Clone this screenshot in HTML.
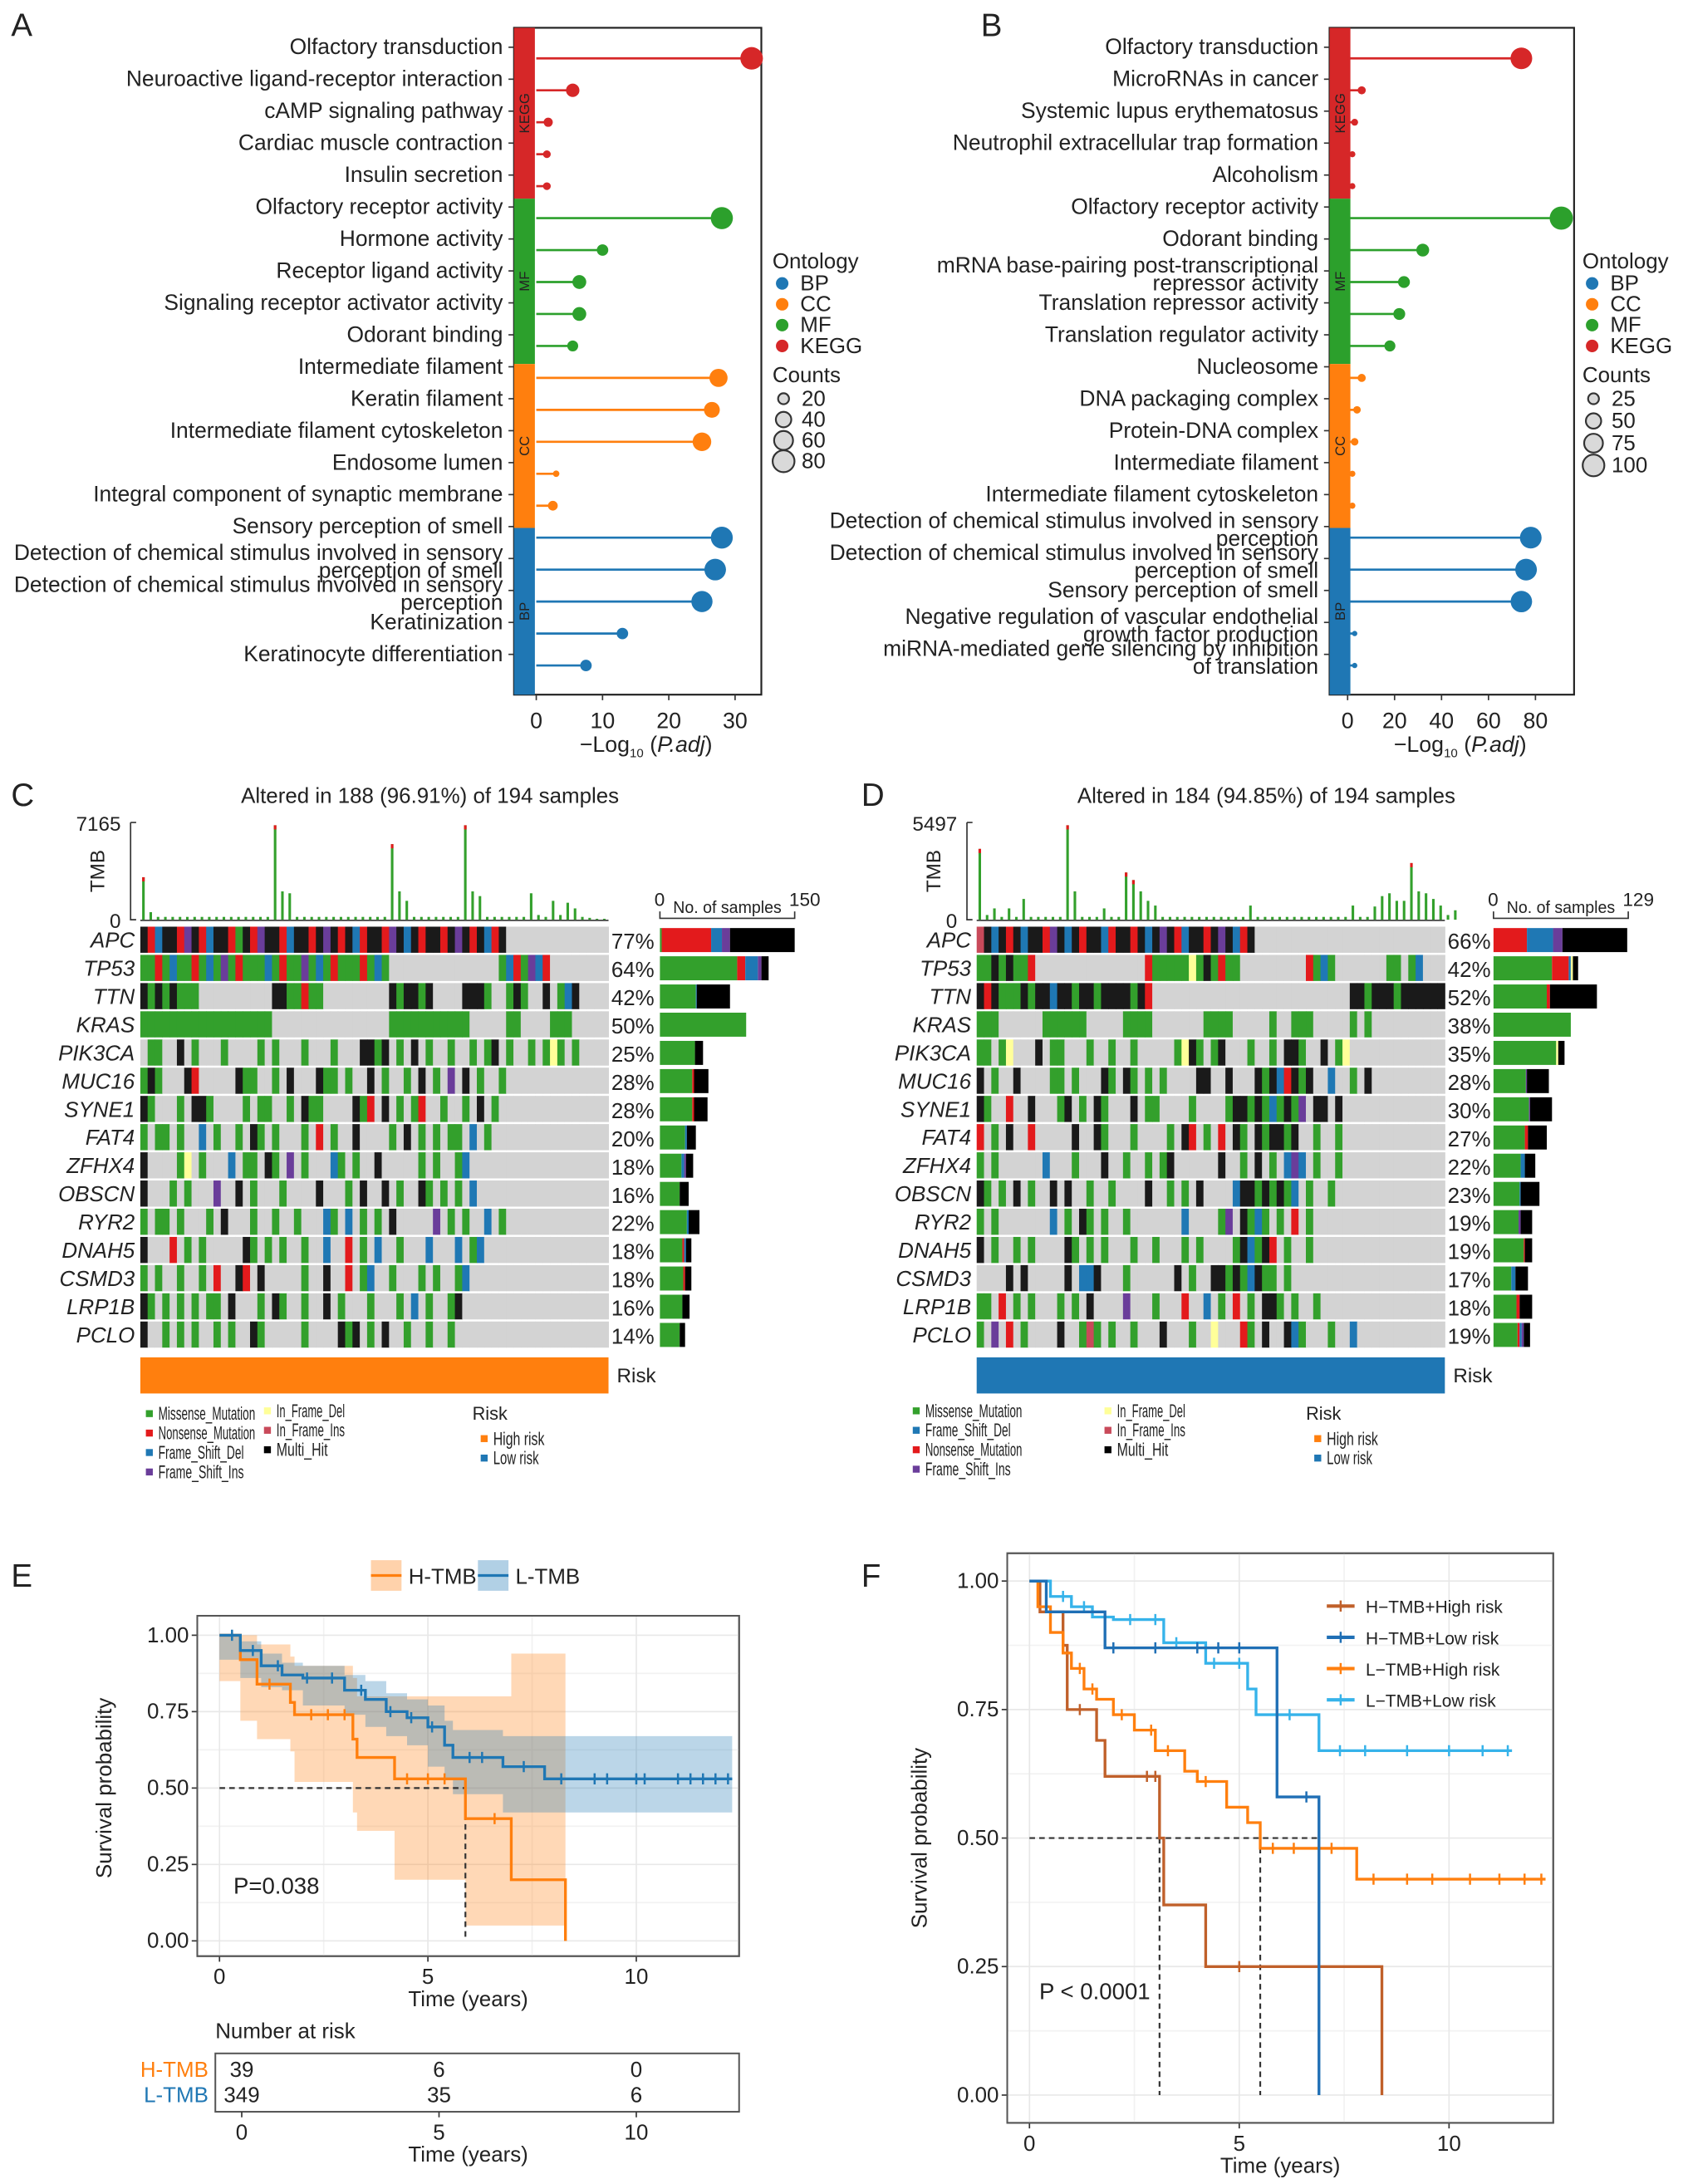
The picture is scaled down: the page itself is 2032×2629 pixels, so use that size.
<!DOCTYPE html>
<html><head><meta charset="utf-8"><style>
html,body{margin:0;padding:0;background:#fff}
svg{display:block}
text{font-family:"Liberation Sans",Arial,sans-serif;fill:#222}
</style></head><body>
<svg id="fig" xmlns="http://www.w3.org/2000/svg" width="2032" height="2629" viewBox="0 0 1215 1572" preserveAspectRatio="none">
<rect width="1215" height="1572" fill="#fff"/>
<g font-size="23">
<text x="8" y="26">A</text>
<text x="706" y="26">B</text>
<text x="8" y="580">C</text>
<text x="620" y="580">D</text>
<text x="8" y="1142">E</text>
<text x="620" y="1142">F</text>
</g>
<g id="gA"></g><g id="gB"></g><g id="gC"></g><g id="gD"></g><g id="gE"></g><g id="gF"></g>
</svg>
<script>
// ---------- Panel A / B data ----------
const termsA = ["Olfactory transduction","Neuroactive ligand-receptor interaction","cAMP signaling pathway","Cardiac muscle contraction","Insulin secretion","Olfactory receptor activity","Hormone activity","Receptor ligand activity","Signaling receptor activator activity","Odorant binding","Intermediate filament","Keratin filament","Intermediate filament cytoskeleton","Endosome lumen","Integral component of synaptic membrane","Sensory perception of smell","Detection of chemical stimulus involved in sensory|perception of smell","Detection of chemical stimulus involved in sensory|perception","Keratinization","Keratinocyte differentiation"];
const valuesA = [32.5,5.5,1.8,1.6,1.6,28,10,6.5,6.5,5.5,27.5,26.5,25,3,2.5,28,27,25,13,7.5];
const countsA = [85,30,14,10,10,82,22,32,32,20,55,42,58,7,16,80,78,75,22,22];
const termsB = ["Olfactory transduction","MicroRNAs in cancer","Systemic lupus erythematosus","Neutrophil extracellular trap formation","Alcoholism","Olfactory receptor activity","Odorant binding","mRNA base-pairing post-transcriptional|repressor activity","Translation repressor activity","Translation regulator activity","Nucleosome","DNA packaging complex","Protein-DNA complex","Intermediate filament","Intermediate filament cytoskeleton","Detection of chemical stimulus involved in sensory|perception","Detection of chemical stimulus involved in sensory|perception of smell","Sensory perception of smell","Negative regulation of vascular endothelial|growth factor production","miRNA-mediated gene silencing by inhibition|of translation"];
const valuesB = [74,6,3,2,2,91,32,24,22,18,6,4,3,2,2,78,76,74,3,3];
const countsB = [100,14,10,8,8,115,35,30,30,26,14,12,12,8,8,100,100,98,6,6];
const groups = ["KEGG","MF","CC","BP"];
const groupColors = {KEGG:"#d62728",MF:"#2ca02c",CC:"#ff7f0e",BP:"#1f77b4"};
const ticksA = [0,10,20,30];
const ticksB = [0,20,40,60,80];

const NS="http://www.w3.org/2000/svg";
function el(parent,tag,attrs,txt){const e=document.createElementNS(NS,tag);for(const k in attrs)e.setAttribute(k,attrs[k]);if(txt!==undefined)e.textContent=txt;parent.appendChild(e);return e;}

function lollipop(g,cfg){
  const {terms,values,counts,x0,pxPer,boxL,boxR,ticks,legX,rScale,legCounts,legR,name}=cfg;
  const xs=v=>x0+v*pxPer, ys=i=>42+i*23;
  const box=el(g,'rect',{x:boxL,y:20,width:boxR-boxL,height:480,fill:'none',stroke:'#222','stroke-width':1.3});
  
  const segs=[[20,143],[143,262],[262,380],[380,500]];
  groups.forEach((gr,k)=>{
    const r=el(g,'rect',{x:boxL,y:segs[k][0],width:15,height:segs[k][1]-segs[k][0],fill:groupColors[gr]});
    
    const cy=(segs[k][0]+segs[k][1])/2;
    const t=el(g,'text',{x:boxL+11,y:cy,'font-size':10,'text-anchor':'middle',transform:`rotate(-90 ${boxL+11} ${cy})`,fill:'#333'},gr);
    
  });
  terms.forEach((tm,i)=>{
    const gr=groups[Math.floor(i/5)],c=groupColors[gr],y=ys(i);
    const ln=el(g,'line',{x1:x0,x2:xs(values[i]),y1:y,y2:y,stroke:c,'stroke-width':1.6});
    
    const d=el(g,'circle',{cx:xs(values[i]),cy:y,r:rScale*Math.sqrt(counts[i]),fill:c});
    
    const parts=tm.split('|');
    const ty=y-8;
    if(parts.length===1){
      const t=el(g,'text',{x:boxL-8,y:ty+5,'font-size':15.8,'text-anchor':'end'},parts[0]);
      
    }else{
      const t=el(g,'text',{x:boxL-8,y:ty+1,'font-size':15.8,'text-anchor':'end'},parts[0]);
      
      const t2=el(g,'text',{x:boxL-8,y:ty+14,'font-size':15.8,'text-anchor':'end'},parts[1]);
      
    }
    el(g,'line',{x1:boxL-4,x2:boxL,y1:ty,y2:ty,stroke:'#333'});
  });
  ticks.forEach(v=>{
    el(g,'line',{x1:xs(v),x2:xs(v),y1:500,y2:504,stroke:'#333'});
    const t=el(g,'text',{x:xs(v),y:524,'font-size':16,'text-anchor':'middle'},v);
    
  });
  const cx=(boxL+boxR)/2+6;
  const xt=el(g,'text',{x:cx,y:541,'font-size':16,'text-anchor':'middle'});
  
  xt.innerHTML='−Log<tspan font-size="9" dy="4">10</tspan><tspan dy="-4"> (</tspan><tspan font-style="italic">P.adj</tspan>)';
  const lt=el(g,'text',{x:legX,y:193,'font-size':15.5},'Ontology');
  
  ['BP','CC','MF','KEGG'].forEach((k,j)=>{
    const yy=204+j*15;
    el(g,'circle',{cx:legX+7,cy:yy,r:4.5,fill:groupColors[k]});
    const t=el(g,'text',{x:legX+20,y:yy+5,'font-size':15.5},k);
    
  });
  const ct=el(g,'text',{x:legX,y:275,'font-size':15.5},'Counts');
  
  legCounts.forEach((c,j)=>{
    const yy=287+j*legR;
    el(g,'circle',{cx:legX+8,cy:yy,r:rScale*Math.sqrt(c),fill:'#d9d9d9',stroke:'#333','stroke-width':1.3});
    const t=el(g,'text',{x:legX+21,y:yy+5,'font-size':15.5},c);
    
  });
}
lollipop(document.getElementById('gA'),{terms:termsA,values:valuesA,counts:countsA,x0:386,pxPer:4.77,boxL:370,boxR:548,ticks:ticksA,legX:556,rScale:0.88,legCounts:[20,40,60,80],legR:15,name:'panel-a'});
lollipop(document.getElementById('gB'),{terms:termsB,values:valuesB,counts:countsB,x0:970,pxPer:1.69,boxL:957,boxR:1133,ticks:ticksB,legX:1139,rScale:0.78,legCounts:[25,50,75,100],legR:16,name:'panel-b'});

// ---------- Panel C / D data ----------
const genesC=["APC","TP53","TTN","KRAS","PIK3CA","MUC16","SYNE1","FAT4","ZFHX4","OBSCN","RYR2","DNAH5","CSMD3","LRP1B","PCLO"];
const pctC=["77%","64%","42%","50%","25%","28%","28%","20%","18%","16%","22%","18%","18%","16%","14%"];
const matC=[
"krbkkrpkrbkkrgkrpkkrbkkrkpkrkbrkkrpkbkrkkrkpkrkbrk",
"ggrgbggrgbgpgrgggbgrggpgbgrgggrgbg...............gbrgpbr",
"kgkgkggg..........kkggrgg.........kgkkgk....kkkg..gkg..k.gbk",
"gggggggggggggggggg................ggggggggggg.....gg....ggg",
".gg..k.g...g....g.g...g...g...kkgk.g.k.g..g..g.gk.g..g.gyg.g",
"gkg...kr.....kgg..g.k...kgg.g..k.g..g.k.g.p.k.g..g.",
"kg...g.kkg....g.gg..g.kgg....kgr.k.g.gr..g..g.k.g",
"g.gg.g..b.g..g.kg.g...g.r.g..k....g.k.g.g.gg.b.g",
"k....gy.g...b.gg.kg.p.g...bg.g..k.....g.g..gb",
"k...g.g...p..k.g...g....k...g.k..k.g..kg.g.g.b",
"g.gg.g...g.k...g..g..g...bg.b.g.g.k.....p.g.g..b.g",
"k...r.g.g.....kg.g.g..g..b..r.g.b..g...b...b.gb",
"g.g..g..g.r..kr.k.....g..k..r.gb..g...g.g..gb",
"kg.g.g.g.gg.k...g.kg..g..k.g...g...g.b.g..gk",
"k..g.g.g..g.g..kg.....g....kgk.g.k..g..g..g"];
// side bar counts: [missense, nonsense, frameshift del, frameshift ins, in-frame del, multi-hit]
const sideC=[[2,55,12,9,0,72],[86,9,14,4,0,8],[40,0,1,0,0,37],[96,0,0,0,0,0],[39,0,0,0,0,9],[36,2,0,0,0,16],[36,2,0,0,0,15],[28,0,2,0,0,10],[24,0,3,2,0,8],[22,0,0,0,0,10],[30,0,2,0,0,12],[25,2,2,0,0,6],[26,2,0,0,0,7],[25,0,0,0,0,8],[22,0,0,0,0,6]];
const tmbC=[.45,.08,.03,.03,.03,.03,.03,.03,.03,.03,.03,.03,.03,.03,.03,.03,.03,.03,1.0,.3,.28,.03,.03,.03,.03,.03,.03,.03,.03,.03,.03,.03,.03,.03,.8,.3,.2,.03,.03,.03,.03,.03,.03,.03,1.0,.3,.25,.03,.03,.03,.03,.03,.03,.28,.05,.03,.2,.05,.18,.12,.03,.02,.01,.01];
const genesD=["APC","TP53","TTN","KRAS","PIK3CA","MUC16","SYNE1","FAT4","ZFHX4","OBSCN","RYR2","DNAH5","CSMD3","LRP1B","PCLO"];
const pctD=["66%","42%","52%","38%","35%","28%","30%","27%","22%","23%","19%","19%","17%","18%","19%"];
const matD=[
"mkbkrkbkkrpkbkrkkbrkkrkbkpkrbkkrkpkbrk",
"ggkgkggr...............rgggggygkgrgg.........rgbg.......gg.gb",
"krkgggkgkkbkkgkkgkkkkgkr...........................kkgkkkgkkkkkkg",
"ggg......gggggg.....gggg.......gggg.....g..ggg.....g.g",
"gg.gy...k.gg...g..g..g.....gykg.gk...g..g.kkg..k.gy",
"k.g..k....gg.g...kg.kg.g.g....kk..k...kgkbrkgk..b..g.k",
"kg..r..k...gk.g.kg...k.gg....g....gkkgkgbgkgp.kk.k",
"r.g.k..r.....k..kg...g....g.kr.g.r.kg.kgkkgk..g..g",
"g.g......b...g...k..g..g.gk......k..g.k.g.bpb.g..g",
"kg.g.k.g..k.k..g..g....k..g.g.k....bkkgkgkgb.g..g",
"g.g.......b.g.kg.g..g.......b....gp.kgbg.g.r.g",
"k.g..g.g....kg.g.g...g..g...g.g....gkbgkr.g..g",
"....k.k.....k.bbk...g......k.g..kkgkgbkgg.g",
"gg.r.g.g...g.g.k....p...g...r..b.g.r.g.kkg.g..g",
"g.p.r.g....k..gmg.g..g...k...g..y...rg.k..kbg...g..b"];
const sideD=[[0,32,25,9,0,62],[56,16,2,0,2,5],[51,3,0,0,0,45],[74,0,0,0,0,0],[60,0,0,0,2,6],[31,0,0,1,0,21],[34,0,0,1,0,21],[30,3,0,0,0,18],[26,0,4,0,0,10],[25,0,1,0,0,18],[24,0,0,2,0,11],[29,1,0,0,0,7],[17,0,4,0,0,12],[22,3,0,0,0,12],[23,2,2,2,0,6]];
const tmbD=[.75,.05,.12,.03,.12,.03,.22,.03,.03,.03,.03,.03,1.0,.3,.03,.03,.03,.12,.03,.03,.5,.42,.3,.2,.15,.03,.03,.03,.03,.03,.03,.03,.03,.03,.03,.03,.03,.15,.03,.03,.03,.03,.03,.03,.03,.03,.03,.03,.03,.03,.03,.15,.03,.03,.14,.25,.28,.2,.2,.6,.3,.28,.22,.15,.05,.1];

const mutColors={g:"#33a02c",r:"#e31a1c",b:"#1f78b4",p:"#6a3d9a",k:"#1a1a1a",y:"#ffff99",m:"#c94a5a",'.':"#d3d3d3"};
const sideColors=["#33a02c","#e31a1c","#1f78b4","#6a3d9a","#ffff99","#000000"];

function oncoplot(g,cfg){
  const {genes,pct,mat,side,tmb,L,R,sideL,sideMax,sideW,tmbMax,title,riskColor,name,legend}=cfg;
  const N=64, cw=(R-L)/N, top=667, rh=20.3;
  const tt=el(g,'text',{x:(L+R)/2+40,y:578,'font-size':15.5,'text-anchor':'middle'},title);
  
  el(g,'path',{d:`M${L-3} 592 H${L-7} M${L-7} 592 V662 H${L-3} M${L} 662.5 H${R}`,stroke:'#333',fill:'none'});
  const t1=el(g,'text',{x:L-14,y:598,'font-size':14.5,'text-anchor':'end'},tmbMax);
  
  el(g,'text',{x:L-14,y:668,'font-size':14.5,'text-anchor':'end'},'0');
  const tl=el(g,'text',{x:L-26,y:627,'font-size':14.5,'text-anchor':'middle',transform:`rotate(-90 ${L-26} 627)`},'TMB');
  
  tmb.forEach((v,i)=>{
    const h=v*68;
    const b=el(g,'rect',{x:L+i*cw+cw*0.25,y:662-h,width:Math.max(1.2,cw*0.35),height:h,fill:'#33a02c'});
    
    if(v>0.4){el(g,'rect',{x:L+i*cw+cw*0.25,y:662-h,width:Math.max(1.2,cw*0.35),height:3,fill:'#e31a1c'});}
  });
  genes.forEach((gn,r)=>{
    const y=top+r*rh;
    const row=(mat[r]+'.'.repeat(N)).slice(0,N);
    for(let i=0;i<N;i++){
      const c=el(g,'rect',{x:L+i*cw,y:y,width:cw+0.3,height:rh-1.5,fill:mutColors[row[i]]||'#d3d3d3'});
      
    }
    const gl=el(g,'text',{x:L-4,y:y+15,'font-size':15.5,'font-style':'italic','text-anchor':'end'},gn);
    
    const pl=el(g,'text',{x:R+2,y:y+16,'font-size':15.5},pct[r]);
    
    let x=sideL;
    side[r].forEach((v,k)=>{
      if(!v)return;
      const w=v*sideW/sideMax;
      const s=el(g,'rect',{x:x,y:y+1,width:w,height:rh-3,fill:sideColors[k]});
      
      x+=w;
    });
  });
  el(g,'path',{d:`M${sideL} 656 V661 H${sideL+sideW} V656`,stroke:'#333',fill:'none'});
  el(g,'text',{x:sideL-4,y:652,'font-size':13.5},'0');
  const ns=el(g,'text',{x:sideL+sideW/2,y:657,'font-size':12,'text-anchor':'middle',textLength:78,lengthAdjust:'spacingAndGlyphs'},'No. of samples');
  
  el(g,'text',{x:sideL+sideW-4,y:652,'font-size':13.5},sideMax);
  const rk=el(g,'rect',{x:L,y:977,width:R-L,height:26,fill:riskColor});
  
  el(g,'text',{x:R+6,y:995,'font-size':14.5},'Risk');
  legend.forEach(([lx,ly,col,txt])=>{
    el(g,'rect',{x:lx,y:ly-7,width:5,height:5,fill:col});
    const t=el(g,'text',{x:lx+9,y:ly,'font-size':13,textLength:txt.length*4.1,lengthAdjust:'spacingAndGlyphs'},txt);
    
  });
}
oncoplot(document.getElementById('gC'),{genes:genesC,pct:pctC,mat:matC,side:sideC,tmb:tmbC,L:101,R:438,sideL:475,sideMax:150,sideW:97,tmbMax:'7165',title:'Altered in 188 (96.91%) of 194 samples',riskColor:'#ff7f0e',name:'panel-c',
legend:[[105,1022,'#33a02c','Missense_Mutation'],[105,1036,'#e31a1c','Nonsense_Mutation'],[105,1050,'#1f78b4','Frame_Shift_Del'],[105,1064,'#6a3d9a','Frame_Shift_Ins'],[190,1020,'#ffff99','In_Frame_Del'],[190,1034,'#c94a5a','In_Frame_Ins'],[190,1048,'#000','Multi_Hit'],[346,1040,'#ff7f0e','High risk'],[346,1054,'#1f77b4','Low risk']]});
oncoplot(document.getElementById('gD'),{genes:genesD,pct:pctD,mat:matD,side:sideD,tmb:tmbD,L:703,R:1040,sideL:1075,sideMax:129,sideW:97,tmbMax:'5497',title:'Altered in 184 (94.85%) of 194 samples',riskColor:'#1f77b4',name:'panel-d',
legend:[[657,1020,'#33a02c','Missense_Mutation'],[657,1034,'#1f78b4','Frame_Shift_Del'],[657,1048,'#e31a1c','Nonsense_Mutation'],[657,1062,'#6a3d9a','Frame_Shift_Ins'],[795,1020,'#ffff99','In_Frame_Del'],[795,1034,'#c94a5a','In_Frame_Ins'],[795,1048,'#000','Multi_Hit'],[946,1040,'#ff7f0e','High risk'],[946,1054,'#1f77b4','Low risk']]});
[[340,1022],[940,1022]].forEach(([x,y])=>{const t=el(document.getElementById(x<600?'gC':'gD'),'text',{x:x,y:y,'font-size':13},'Risk');});

// ---------- Panel E / F data ----------
const hTmbTimes=[0,0.5,0.9,1.7,1.8,3.2,3.3,4.2,5.9,7.0,8.3];
const hTmbSurv=[1,0.92,0.84,0.78,0.74,0.66,0.60,0.53,0.40,0.20,0];
const hTmbUpper=[1,1,0.97,0.93,0.90,0.86,0.80,0.80,0.80,0.94,0.94];
const hTmbLower=[1,0.85,0.72,0.66,0.62,0.52,0.42,0.36,0.20,0.05,0.05];
const lTmbTimes=[0,0.5,1,1.5,2,3,3.5,4,4.5,5,5.4,5.6,6.8,7.8,12.3];
const lTmbSurv=[1,0.95,0.9,0.87,0.86,0.82,0.79,0.75,0.73,0.70,0.64,0.60,0.57,0.53,0.53];
const lTmbUpper=[1,0.98,0.94,0.91,0.90,0.87,0.85,0.81,0.79,0.77,0.72,0.69,0.67,0.67,0.67];
const lTmbLower=[1,0.92,0.86,0.83,0.82,0.77,0.74,0.70,0.67,0.64,0.57,0.53,0.48,0.42,0.42];
const hTmbCensor=[1.2,2.2,2.6,3.0,4.5,5.0,5.4,6.6];
const lTmbCensor=[0.3,0.8,1.4,2.1,2.7,3.4,4.1,4.6,5.1,6.0,6.3,7.3,8.2,9.0,9.3,10.0,10.2,11.0,11.3,11.6,11.9,12.2];
const riskTimes=[0,5,10];
const riskH=[39,6,0];
const riskL=[349,35,6];

const hhTimes=[0,0.25,0.8,0.9,1.6,1.8,3.1,3.2,4.2,8.4];
const hhSurv=[1,0.94,0.875,0.75,0.69,0.62,0.50,0.37,0.25,0];
const hlTimes=[0,0.4,1.8,5.9,6.9];
const hlSurv=[1,0.94,0.87,0.58,0];
const lhTimes=[0,0.2,0.5,0.8,1.0,1.3,1.6,2.0,2.5,3.0,3.7,4.0,4.7,5.2,5.5,7.8,12.3];
const lhSurv=[1,0.95,0.9,0.86,0.83,0.79,0.77,0.74,0.71,0.67,0.63,0.61,0.56,0.53,0.48,0.42,0.42];
const llTimes=[0,0.5,1,1.5,2,3.2,4.2,5.2,5.4,6.9,11.5];
const llSurv=[1,0.97,0.95,0.93,0.925,0.88,0.84,0.79,0.74,0.67,0.67];
const hhCensor=[1.2,2.8,3.0,5.0];
const hlCensor=[2.0,3.0,4.0,4.5,5.0,6.6];
const lhCensor=[1.2,1.5,2.2,2.9,3.3,4.2,5.8,6.3,7.2,8.2,9.0,9.6,10.5,11.2,11.8,12.2];
const llCensor=[0.8,1.3,1.8,2.4,3.0,3.5,4.4,5.0,6.2,7.4,8.0,9.0,10.0,10.8,11.4];

function stepPath(xs,ys,ts,ss){
  let d=`M${xs(ts[0])} ${ys(ss[0])}`;
  for(let i=1;i<ts.length;i++){d+=` H${xs(ts[i])} V${ys(ss[i])}`;}
  return d;
}
function survAt(ts,ss,t){let v=ss[0];for(let i=0;i<ts.length;i++){if(ts[i]<=t)v=ss[i];}return v;}
function bandPath(xs,ys,ts,up,lo){
  let d=`M${xs(ts[0])} ${ys(up[0])}`;
  for(let i=1;i<ts.length;i++){d+=` H${xs(ts[i])} V${ys(up[i])}`;}
  for(let i=ts.length-1;i>=0;i--){d+=` V${ys(lo[i])} H${xs(i>0?ts[i-1]:ts[0])}`;}
  return d+'Z';
}
function axesKM(g,xs,ys,box,name,ylabX){
  const f=el(g,'rect',{x:box[0],y:box[1],width:box[2]-box[0],height:box[3]-box[1],fill:'#fff',stroke:'#555','stroke-width':1.2});
  
  [0.125,0.375,0.625,0.875].forEach(v=>el(g,'line',{x1:box[0],x2:box[2],y1:ys(v),y2:ys(v),stroke:'#f2f2f2'}));
  [2.5,7.5,12.5].forEach(v=>{if(xs(v)<box[2])el(g,'line',{x1:xs(v),x2:xs(v),y1:box[1],y2:box[3],stroke:'#f2f2f2'})});
  [0,0.25,0.5,0.75,1].forEach(v=>{
    el(g,'line',{x1:box[0],x2:box[2],y1:ys(v),y2:ys(v),stroke:'#e8e8e8'});
    el(g,'line',{x1:box[0]-4,x2:box[0],y1:ys(v),y2:ys(v),stroke:'#333'});
    const t=el(g,'text',{x:box[0]-6,y:ys(v)+5,'font-size':15.5,'text-anchor':'end'},v.toFixed(2));
    
  });
  [0,5,10].forEach(v=>{
    el(g,'line',{x1:xs(v),x2:xs(v),y1:box[1],y2:box[3],stroke:'#e8e8e8'});
    el(g,'line',{x1:xs(v),x2:xs(v),y1:box[3],y2:box[3]+4,stroke:'#333'});
    const t=el(g,'text',{x:xs(v),y:box[3]+20,'font-size':15.5,'text-anchor':'middle'},v);
    
  });
  const xt=el(g,'text',{x:(box[0]+box[2])/2,y:box[3]+36,'font-size':15.5,'text-anchor':'middle'},'Time (years)');
  
  const cy=(ys(0)+ys(1))/2;
  const yt=el(g,'text',{x:ylabX,y:cy,'font-size':15.5,'text-anchor':'middle',transform:`rotate(-90 ${ylabX} ${cy})`},'Survival probability');
  
  el(g,'rect',{x:box[0],y:box[1],width:box[2]-box[0],height:box[3]-box[1],fill:'none',stroke:'#555','stroke-width':1.2});
}
function curve(g,xs,ys,ts,ss,cens,col,nm){
  const p=el(g,'path',{d:stepPath(xs,ys,ts,ss),stroke:col,'stroke-width':2,fill:'none'});
  
  cens.forEach(t=>{
    const x=xs(t),y=ys(survAt(ts,ss,t));
    const c=el(g,'path',{d:`M${x} ${y-4} V${y+4} M${x-3} ${y} H${x+3}`,stroke:col,'stroke-width':1.5});
    
  });
}
// E
(function(){
  const g=document.getElementById('gE');
  const xs=t=>158+t*30, ys=v=>1397-v*220;
  axesKM(g,xs,ys,[142,1163,532,1408],'panel-e',80);
  const b1=el(g,'path',{d:bandPath(xs,ys,hTmbTimes,hTmbUpper,hTmbLower),fill:'#ff7f0e','fill-opacity':0.3});
  
  const b2=el(g,'path',{d:bandPath(xs,ys,lTmbTimes,lTmbUpper,lTmbLower),fill:'#1f77b4','fill-opacity':0.3});
  
  el(g,'path',{d:`M${xs(0)} ${ys(0.5)} H${xs(5.9)} V${ys(0)}`,stroke:'#333','stroke-dasharray':'4 3','stroke-width':1.3,fill:'none'});
  curve(g,xs,ys,hTmbTimes,hTmbSurv,hTmbCensor,'#ff7f0e','h-tmb-curve');
  curve(g,xs,ys,lTmbTimes,lTmbSurv,lTmbCensor,'#1f77b4','l-tmb-curve');
  const p=el(g,'text',{x:168,y:1363,'font-size':16.5},'P=0.038');
  
  el(g,'rect',{x:267,y:1123,width:22,height:22,fill:'#ff7f0e','fill-opacity':0.35});
  el(g,'line',{x1:267,x2:289,y1:1134,y2:1134,stroke:'#ff7f0e','stroke-width':2});
  const l1=el(g,'text',{x:294,y:1140,'font-size':15.5},'H-TMB');
  el(g,'rect',{x:344,y:1123,width:22,height:22,fill:'#1f77b4','fill-opacity':0.35});
  el(g,'line',{x1:344,x2:366,y1:1134,y2:1134,stroke:'#1f77b4','stroke-width':2});
  const l2=el(g,'text',{x:371,y:1140,'font-size':15.5},'L-TMB');
  const rt=el(g,'text',{x:155,y:1467,'font-size':15.5},'Number at risk');
  
  const rx=t=>174+t*28.4;
  el(g,'rect',{x:155,y:1478,width:377,height:42,fill:'#fff',stroke:'#555','stroke-width':1.2});
  const a=el(g,'text',{x:150,y:1495,'font-size':15.5,'text-anchor':'end',style:'fill:#ff7f0e'},'H-TMB');
  const b=el(g,'text',{x:150,y:1513,'font-size':15.5,'text-anchor':'end',style:'fill:#1f77b4'},'L-TMB');
  riskTimes.forEach((t,i)=>{
    const c1=el(g,'text',{x:rx(t),y:1495,'font-size':15.5,'text-anchor':'middle'},riskH[i]);
    const c2=el(g,'text',{x:rx(t),y:1513,'font-size':15.5,'text-anchor':'middle'},riskL[i]);
    el(g,'line',{x1:rx(t),x2:rx(t),y1:1520,y2:1524,stroke:'#333'});
    el(g,'text',{x:rx(t),y:1540,'font-size':15.5,'text-anchor':'middle'},t);
  });
  const tx=el(g,'text',{x:337,y:1556,'font-size':15.5,'text-anchor':'middle'},'Time (years)');
  
})();
// F
(function(){
  const g=document.getElementById('gF');
  const xs=t=>741+t*30.2, ys=v=>1508-v*370;
  axesKM(g,xs,ys,[725,1118,1118,1528],'panel-f',667);
  el(g,'path',{d:`M${xs(0)} ${ys(0.5)} H${xs(6.9)} M${xs(3.1)} ${ys(0.5)} V${ys(0)} M${xs(5.5)} ${ys(0.5)} V${ys(0)} M${xs(6.9)} ${ys(0.5)} V${ys(0)}`,stroke:'#333','stroke-dasharray':'4 3','stroke-width':1.3,fill:'none'});
  curve(g,xs,ys,hhTimes,hhSurv,hhCensor,'#c0602a','h-tmb-high-risk-curve');
  curve(g,xs,ys,lhTimes,lhSurv,lhCensor,'#ff7f0e','l-tmb-high-risk-curve');
  curve(g,xs,ys,llTimes,llSurv,llCensor,'#36b3ea','l-tmb-low-risk-curve');
  curve(g,xs,ys,hlTimes,hlSurv,hlCensor,'#1f6fb5','h-tmb-low-risk-curve');
  const p=el(g,'text',{x:748,y:1439,'font-size':16.5},'P < 0.0001');
  
  [['H−TMB+High risk','#c0602a'],['H−TMB+Low risk','#1f6fb5'],['L−TMB+High risk','#ff7f0e'],['L−TMB+Low risk','#36b3ea']].forEach(([t,c],i)=>{
    const y=1156+i*22.5;
    el(g,'line',{x1:955,x2:975,y1:y,y2:y,stroke:c,'stroke-width':2.5});
    el(g,'path',{d:`M965 ${y-4} V${y+4}`,stroke:c,'stroke-width':1.5});
    const tt=el(g,'text',{x:983,y:y+5,'font-size':12.5},t);
    
  });
})();
</script>
</body></html>
